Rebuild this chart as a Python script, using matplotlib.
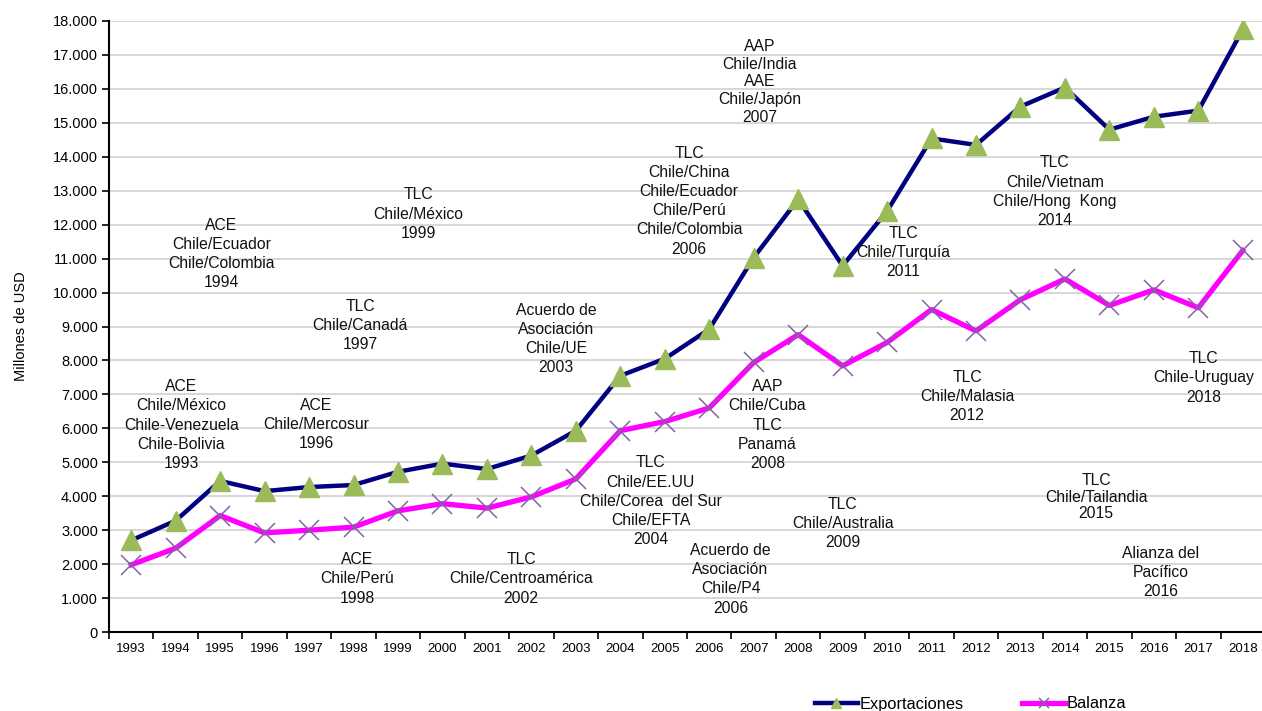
import numpy as np
import matplotlib
matplotlib.use("Agg")
import matplotlib.pyplot as plt
from matplotlib.ticker import FuncFormatter, FixedLocator

# -------------------------------
# 1. Data (millones de USD)
# -------------------------------
years = [str(y) for y in range(1993, 2019)]
exportaciones = [2700, 3280, 4450, 4150, 4270, 4330, 4720, 4960, 4800, 5200,
                 5930, 7550, 8050, 8920, 11030, 12750, 10790, 12400, 14540, 14350,
                 15480, 16040, 14800, 15180, 15360, 17750]
balanza = [1980, 2470, 3430, 2920, 3000, 3090, 3570, 3780, 3650, 3980,
           4510, 5930, 6200, 6600, 7940, 8760, 7840, 8530, 9500, 8870,
           9790, 10400, 9620, 10080, 9550, 11240]

# trade agreements written on the chart
acuerdos = [
    "ACE\nChile/México\nChile-Venezuela\nChile-Bolivia\n1993",
    "ACE\nChile/Ecuador\nChile/Colombia\n1994",
    "ACE\nChile/Mercosur\n1996",
    "TLC\nChile/Canadá\n1997",
    "ACE\nChile/Perú\n1998",
    "TLC\nChile/México\n1999",
    "TLC\nChile/Centroamérica\n2002",
    "Acuerdo de\nAsociación\nChile/UE\n2003",
    "TLC\nChile/EE.UU\nChile/Corea  del Sur\nChile/EFTA\n2004",
    "TLC\nChile/China\nChile/Ecuador\nChile/Perú\nChile/Colombia\n2006",
    "Acuerdo de\nAsociación\nChile/P4\n2006",
    "AAP\nChile/India\nAAE\nChile/Japón\n2007",
    "AAP\nChile/Cuba\nTLC\nPanamá\n2008",
    "TLC\nChile/Australia\n2009",
    "TLC\nChile/Turquía\n2011",
    "TLC\nChile/Malasia\n2012",
    "TLC\nChile/Vietnam\nChile/Hong  Kong\n2014",
    "TLC\nChile/Tailandia\n2015",
    "Alianza del\nPacífico\n2016",
    "TLC\nChile-Uruguay\n2018",
]
# where each label sits: (x in category units, top of first line in USD, line spacing)
acuerdos_pos = [
    (1.13, 7450, 1.35), (2.03, 12200, 1.35), (4.16, 6900, 1.35), (5.15, 9820, 1.35),
    (5.08, 2350, 1.35), (6.46, 13100, 1.35), (8.77, 2350, 1.35), (9.56, 9700, 1.35),
    (11.68, 5200, 1.35), (12.55, 14330, 1.35), (13.48, 2620, 1.35), (14.13, 17480, 1.24),
    (14.31, 7450, 1.35), (16.0, 3980, 1.35), (17.37, 11960, 1.35), (18.8, 7720, 1.35),
    (20.77, 14040, 1.35), (21.7, 4680, 1.12), (23.15, 2540, 1.35), (24.12, 8270, 1.35),
]

# -------------------------------
# 2. Figure
# -------------------------------
plt.rcParams['font.family'] = ['Liberation Sans', 'DejaVu Sans']
fig = plt.figure(figsize=(12.62, 7.11), dpi=100)
ax = fig.add_axes([109 / 1262, 1 - 632 / 711, 1156 / 1262, (632 - 21) / 711])

x = np.arange(len(years))
ax.plot(x, exportaciones, color='#000080', lw=3.2, marker='^', ms=14,
        mfc='#9BBB59', mec='#9BBB59', label='Exportaciones', zorder=3)
ax.plot(x, balanza, color='#FF00FF', lw=3.8, marker='x', ms=14, mew=1.1,
        mec='#8064A2', label='Balanza', zorder=3)

for txt, (tx, ty, ls) in zip(acuerdos, acuerdos_pos):
    ax.text(tx, ty, txt, ha='center', va='top', fontsize=11.3,
            linespacing=ls, color='#111111', zorder=4)

# -------------------------------
# 3. Axes styling
# -------------------------------
ax.set_xlim(-0.5, len(years) - 0.5)
ax.set_ylim(0, 18000)
ax.set_yticks(np.arange(0, 18001, 1000))
ax.yaxis.set_major_formatter(FuncFormatter(lambda v, p: f"{int(v):,}".replace(",", ".")))
ax.yaxis.grid(True, color='#D4D4D4', lw=1.3)
ax.set_axisbelow(True)

ax.xaxis.set_major_locator(FixedLocator(x - 0.5))
ax.xaxis.set_minor_locator(FixedLocator(x))
ax.set_xticklabels([])
ax.set_xticklabels(years, minor=True, fontsize=9.5)
ax.tick_params(axis='x', which='minor', length=0, pad=8)
ax.tick_params(axis='x', which='major', length=5, width=1.2, direction='out')
ax.tick_params(axis='y', length=5, width=1.2, labelsize=10.5, pad=3)

for s in ['top', 'right']:
    ax.spines[s].set_visible(False)
for s in ['left', 'bottom']:
    ax.spines[s].set_linewidth(1.5)
    ax.spines[s].set_color('black')

ax.set_ylabel("Millones de USD", fontsize=10.5, labelpad=18)

fig.legend(loc='center', bbox_to_anchor=(0.769, 1 - 704 / 711), ncol=2,
           frameon=False, fontsize=11.8, handlelength=2.6, columnspacing=3.6,
           handletextpad=0.1, markerscale=0.5)

fig.savefig("out.png", dpi=100)
